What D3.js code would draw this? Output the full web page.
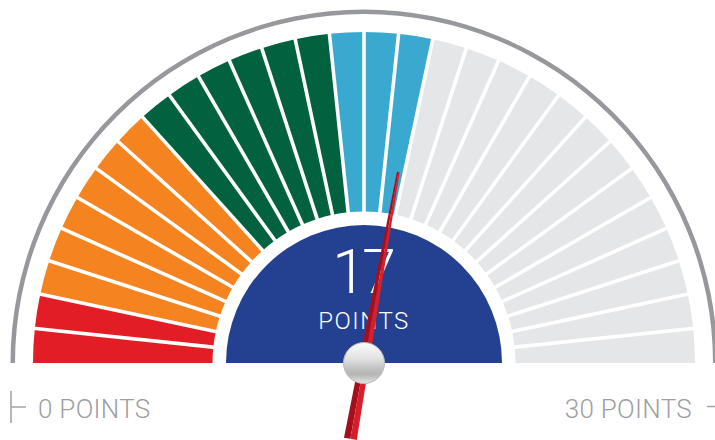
<!DOCTYPE html>
<html>
<head>
<meta charset="utf-8">
<script src="https://cdn.jsdelivr.net/npm/d3@7"></script>
<style>
  html, body { margin: 0; padding: 0; background: #fff; }
  svg { display: block; font-family: Roboto, "Open Sans", sans-serif; }
</style>
</head>
<body>
<svg id="gauge"></svg>
<script>
// chart data
const maxPoints = 30;
const score = 17;
const needleValue = 16.7;          // where the needle actually sits
const bandNames = ["red", "orange", "green", "blue"];
const bandEnds = [2, 8, 14, 17];   // upper point of each band
const scoreLabel = ["17", "POINTS"];
const endLabels = ["0 POINTS", "30 POINTS"];

const width = 715, height = 440;
const cx = 364, cy = 363;
const colors = { red: "#e31d25", orange: "#f58420", green: "#02613f", blue: "#3aa9cf", empty: "#e5e6e7" };

const svg = d3.select("#gauge").attr("width", width).attr("height", height);
const defs = svg.append("defs");

// gradient for the outer rim
const rimGrad = defs.append("linearGradient")
    .attr("id", "rimGrad").attr("gradientUnits", "userSpaceOnUse")
    .attr("x1", 0).attr("y1", 10).attr("x2", 0).attr("y2", cy);
rimGrad.append("stop").attr("offset", "0%").attr("stop-color", "#97989c");
rimGrad.append("stop").attr("offset", "60%").attr("stop-color", "#b4b5b8");
rimGrad.append("stop").attr("offset", "100%").attr("stop-color", "#e4e4e6");

// gradient for the pivot ball
const ballGrad = defs.append("linearGradient")
    .attr("id", "ballGrad").attr("x1", 0).attr("y1", 0).attr("x2", 0).attr("y2", 1);
ballGrad.append("stop").attr("offset", "0%").attr("stop-color", "#fbfbfb");
ballGrad.append("stop").attr("offset", "40%").attr("stop-color", "#e2e2e2");
ballGrad.append("stop").attr("offset", "62%").attr("stop-color", "#c4c4c4");
ballGrad.append("stop").attr("offset", "78%").attr("stop-color", "#b4b4b4");
ballGrad.append("stop").attr("offset", "100%").attr("stop-color", "#e6e6e6");

const angle = d3.scaleLinear().domain([0, maxPoints]).range([-Math.PI / 2, Math.PI / 2]);

const g = svg.append("g").attr("transform", `translate(${cx},${cy})`);

// outer rim
g.append("path")
    .attr("d", d3.arc()({ innerRadius: 349, outerRadius: 353.5, startAngle: angle(0), endAngle: angle(maxPoints) }))
    .attr("fill", "url(#rimGrad)");

// one segment per point
function segColor(p) {
    if (p > score) return colors.empty;
    const i = bandEnds.findIndex(e => p <= e);
    return colors[bandNames[i]];
}

const segArc = d3.arc().innerRadius(151.5).outerRadius(331);
g.selectAll(".seg")
    .data(d3.range(1, maxPoints + 1))
    .enter()
    .append("path")
    .attr("class", "seg")
    .attr("d", p => segArc({ startAngle: angle(p - 1), endAngle: angle(p) }))
    .attr("fill", p => segColor(p));

// white gaps between segments
g.selectAll(".gap")
    .data(d3.range(1, maxPoints))
    .enter()
    .append("line")
    .attr("class", "gap")
    .attr("x1", p => d3.pointRadial(angle(p), 140)[0])
    .attr("y1", p => d3.pointRadial(angle(p), 140)[1])
    .attr("x2", p => d3.pointRadial(angle(p), 340)[0])
    .attr("y2", p => d3.pointRadial(angle(p), 340)[1])
    .attr("stroke", "#fff")
    .attr("stroke-width", 3.6);

// centre disc
g.append("path")
    .attr("d", d3.arc()({ innerRadius: 0, outerRadius: 138, startAngle: angle(0), endAngle: angle(maxPoints) }))
    .attr("fill", "#234190");

g.append("text")
    .attr("x", -2).attr("y", -70)
    .attr("text-anchor", "middle")
    .attr("fill", "#fff")
    .style("font-size", "61px")
    .style("font-weight", 300)
    .style("letter-spacing", "-4px")
    .text(scoreLabel[0]);

g.append("text")
    .attr("x", 0).attr("y", -34)
    .attr("text-anchor", "middle")
    .attr("fill", "#fff")
    .style("font-size", "24px")
    .style("font-weight", 300)
    .style("letter-spacing", "1.5px")
    .text(scoreLabel[1]);

// needle
const needle = g.append("g")
    .attr("transform", `rotate(${angle(needleValue) * 180 / Math.PI})`);
needle.append("path")
    .attr("d", "M0,-194 L-1.4,-194 L-6.5,77 L0,77 Z")
    .attr("fill", "#a50f1b");
needle.append("path")
    .attr("d", "M0,-194 L1.4,-194 L6.5,77 L0,77 Z")
    .attr("fill", "#d71f2b");

// pivot ball
g.append("circle")
    .attr("r", 20.5)
    .attr("fill", "url(#ballGrad)")
    .attr("stroke", "#b9b9b9")
    .attr("stroke-width", 1);

// end labels
const labelY = 418;
svg.append("text")
    .attr("x", 38).attr("y", labelY)
    .attr("fill", "#9d9ea1")
    .style("font-size", "26px")
    .style("font-weight", 300)
    .style("letter-spacing", "0.3px")
    .text(endLabels[0]);
svg.append("text")
    .attr("x", 692).attr("y", labelY)
    .attr("text-anchor", "end")
    .attr("fill", "#9d9ea1")
    .style("font-size", "26px")
    .style("font-weight", 300)
    .style("letter-spacing", "0.3px")
    .text(endLabels[1]);

// small bracket marks next to the labels
svg.append("path")
    .attr("d", "M11,391 V423 M11,407 H26 M707,406.5 H715")
    .attr("stroke", "#a3a4a7")
    .attr("stroke-width", 1.6)
    .attr("fill", "none");
</script>
</body>
</html>
